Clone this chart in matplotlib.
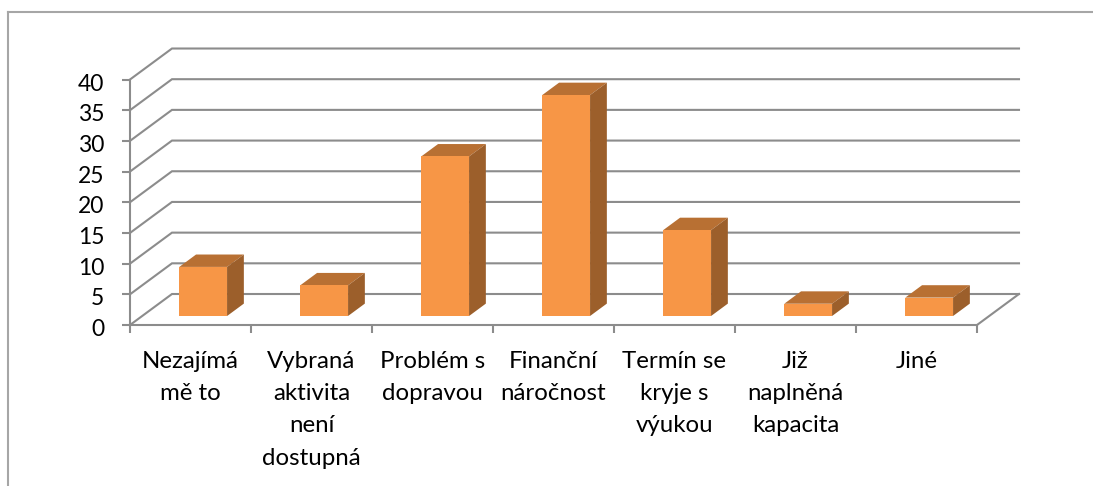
import matplotlib
matplotlib.use('Agg')
import matplotlib.pyplot as plt
from matplotlib.lines import Line2D
from matplotlib.patches import Polygon
from matplotlib.transforms import ScaledTranslation

categories = ['Nezajímá\nmě to', 'Vybraná\naktivita\nnení\ndostupná', 'Problém s\ndopravou',
              'Finanční\nnáročnost', 'Termín se\nkryje s\nvýukou', 'Již\nnaplněná\nkapacita', 'Jiné']
values = [8, 5, 26, 36, 14, 2, 3]
y_ticks = [0, 5, 10, 15, 20, 25, 30, 35, 40]

W, H = 1093, 486
plt.rcParams['font.family'] = ['Lato', 'DejaVu Sans']

fig = plt.figure(figsize=(W / 100, H / 100), dpi=100)
ax = fig.add_axes([130 / W, 1 - 325 / H, (977 - 130) / W, (325 - 79.5) / H])
ax.set_xlim(0, 7)
ax.set_ylim(0, 40)
ax.patch.set_visible(False)

grid_c = '#8c8c8c'
dx, dy = 0.347, 5.05  # 3d depth in data units
for v in y_ticks:
    ax.plot([0, dx, 7 + dx], [v, v + dy, v + dy], color=grid_c, lw=1.5, clip_on=False, zorder=1,
            solid_joinstyle='miter')
ax.plot([7, 7 + dx], [0, dy], color=grid_c, lw=1.5, clip_on=False, zorder=1)

for s in ['top', 'right']:
    ax.spines[s].set_visible(False)
for s in ['left', 'bottom']:
    ax.spines[s].set_color(grid_c)
    ax.spines[s].set_linewidth(1.5)
ax.set_xticks(range(8))
ax.set_xticklabels([])
ax.set_yticks(y_ticks)
ax.tick_params(axis='both', color=grid_c, width=1.5, length=6)
ax.tick_params(axis='y', labelsize=16.5, pad=12.5, labelcolor='black')
# nudge the numbers down a little
shift = ScaledTranslation(0, -2.5 / 100, fig.dpi_scale_trans)
for t in ax.get_yticklabels():
    t.set_transform(t.get_transform() + shift)

# bars, sheared to look 3d
bw = 0.395
d0, d1 = 0.29, 0.69
for i, v in enumerate(values):
    x0 = i + 0.5 - bw / 2 + d0 * dx + 0.004
    x1 = x0 + bw
    y0 = d0 * dy
    sx = (d1 - d0) * dx
    sy = (d1 - d0) * dy
    ax.add_patch(Polygon([(x0, y0 + v), (x1, y0 + v), (x1 + sx, y0 + v + sy), (x0 + sx, y0 + v + sy)],
                         fc='#b87033', ec='none', zorder=3, clip_on=False))
    ax.add_patch(Polygon([(x1, y0), (x1 + sx, y0 + sy), (x1 + sx, y0 + v + sy), (x1, y0 + v)],
                         fc='#9c5f2b', ec='none', zorder=3, clip_on=False))
    ax.add_patch(Polygon([(x0, y0), (x1, y0), (x1, y0 + v), (x0, y0 + v)],
                         fc='#f79646', ec='none', zorder=4, clip_on=False))

for i, c in enumerate(categories):
    ax.annotate(c, (i + 0.5, 0), xytext=(0, -19), textcoords='offset points', ha='center', va='top',
                fontsize=17.3, linespacing=1.65, color='black', annotation_clip=False)

# outer frame
frame = '#a6a6a6'
fig.add_artist(Line2D([8 / W, 8 / W], [0, 1 - 12 / H], color=frame, lw=1.5))
fig.add_artist(Line2D([8 / W, 1], [1 - 12 / H, 1 - 12 / H], color=frame, lw=1.5))

fig.savefig('out.png', dpi=100)
